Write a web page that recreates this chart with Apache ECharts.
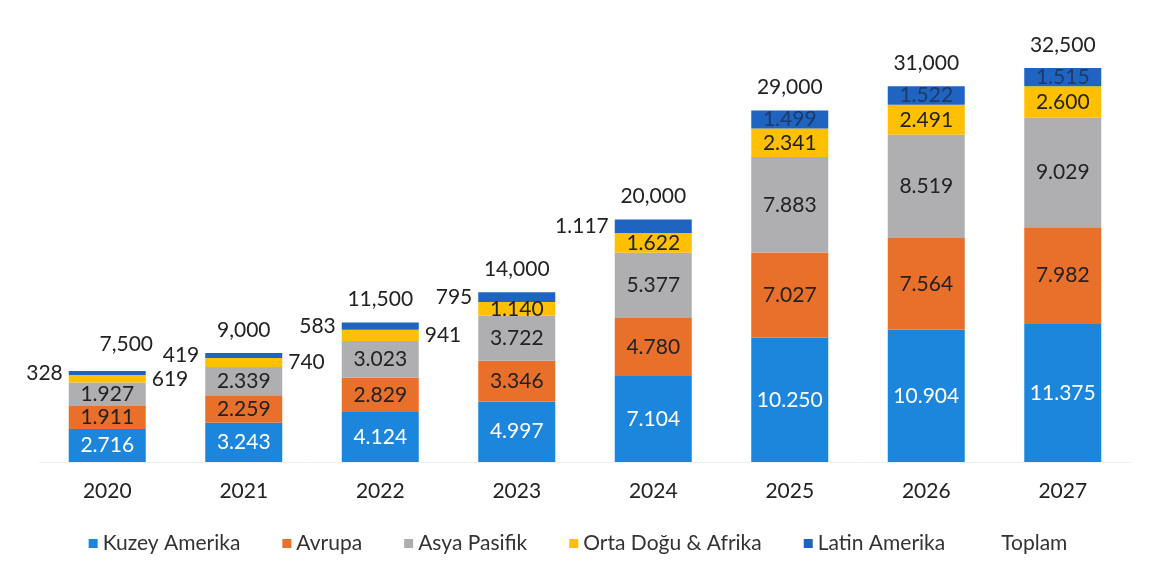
<!DOCTYPE html>
<html>
<head>
<meta charset="utf-8">
<script src="https://cdn.jsdelivr.net/npm/echarts@6/dist/echarts.min.js"></script>
<style>
  html, body { margin: 0; padding: 0; background: #fff; }
  #main { width: 1156px; height: 564px; }
</style>
</head>
<body>
<div id="main"></div>
<script>
const years = ['2020', '2021', '2022', '2023', '2024', '2025', '2026', '2027'];
const kuzeyAmerika = [2716, 3243, 4124, 4997, 7104, 10250, 10904, 11375];
const avrupa = [1911, 2259, 2829, 3346, 4780, 7027, 7564, 7982];
const asyaPasifik = [1927, 2339, 3023, 3722, 5377, 7883, 8519, 9029];
const ortaDogu = [619, 740, 941, 1140, 1622, 2341, 2491, 2600];
const latinAmerika = [328, 419, 583, 795, 1117, 1499, 1522, 1515];
const toplam = [7500, 9000, 11500, 14000, 20000, 29000, 31000, 32500];

const FONT = 'Lato';

// 2.716 style (dot as thousands separator)
function dotFmt(v) {
  return String(v).replace(/\B(?=(\d{3})+(?!\d))/g, '.');
}
function commaFmt(v) {
  return String(v).replace(/\B(?=(\d{3})+(?!\d))/g, ',');
}

function barSeries(name, data, color, labelColor, outsidePos, limit) {
  return {
    name: name,
    type: 'bar',
    stack: 'total',
    barWidth: 77,
    itemStyle: { color: color },
    label: {
      show: true,
      position: 'inside',
      color: labelColor,
      fontFamily: FONT,
      fontSize: 21,
      formatter: function (p) { return dotFmt(p.value); }
    },
    data: data.map(function (v) {
      if (outsidePos && v < limit) {
        return { value: v, label: { position: outsidePos, color: '#222', distance: 6 } };
      }
      return v;
    })
  };
}

const chart = echarts.init(document.getElementById('main'));

const option = {
  backgroundColor: '#fff',
  animation: false,
  grid: { left: 39, right: 25, top: 68, bottom: 102 },
  legend: {
    bottom: 5,
    left: 'center',
    itemWidth: 9,
    itemHeight: 9,
    itemGap: 42,
    textStyle: { fontFamily: FONT, fontSize: 21, color: '#333' },
    data: [
      { name: 'Kuzey Amerika', icon: 'rect' },
      { name: 'Avrupa', icon: 'rect' },
      { name: 'Asya Pasifik', icon: 'rect' },
      { name: 'Orta Doğu & Afrika', icon: 'rect' },
      { name: 'Latin Amerika', icon: 'rect' },
      { name: 'Toplam', icon: 'rect', itemStyle: { color: 'rgba(0,0,0,0)' } }
    ]
  },
  xAxis: {
    type: 'category',
    data: years,
    axisTick: { show: false },
    axisLine: { lineStyle: { color: '#f0f0f0' } },
    axisLabel: { fontFamily: FONT, fontSize: 21, color: '#222', margin: 19 }
  },
  yAxis: {
    type: 'value',
    min: 0,
    max: 32500,
    show: false,
    splitLine: { show: false }
  },
  series: [
    barSeries('Kuzey Amerika', kuzeyAmerika, '#1c86dd', '#fff'),
    barSeries('Avrupa', avrupa, '#e8702a', '#222'),
    barSeries('Asya Pasifik', asyaPasifik, '#afafb2', '#222'),
    barSeries('Orta Doğu & Afrika', ortaDogu, '#ffc000', '#222', 'right', 1000),
    barSeries('Latin Amerika', latinAmerika, '#1e64c0', '#1f3a68', 'left', 1200),
    {
      name: 'Toplam',
      type: 'line',
      symbol: 'circle',
      symbolSize: 1,
      itemStyle: { color: 'rgba(0,0,0,0)' },
      lineStyle: { opacity: 0 },
      z: 10,
      label: {
        show: true,
        position: 'top',
        distance: 12,
        color: '#222',
        fontFamily: FONT,
        fontSize: 21,
        formatter: function (p) { return commaFmt(p.value); }
      },
      data: toplam.map(function (v, i) {
        if (i === 0) return { value: v, label: { offset: [19, -4] } };
        return v;
      })
    }
  ]
};

chart.setOption(option);
</script>
</body>
</html>
